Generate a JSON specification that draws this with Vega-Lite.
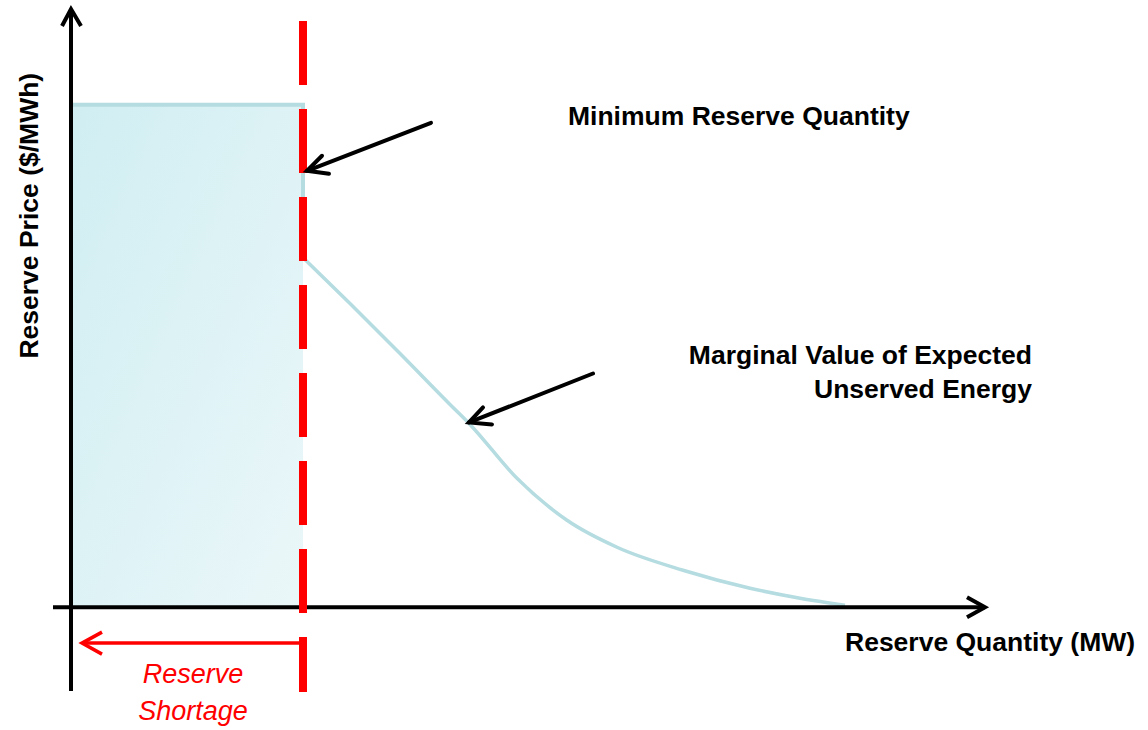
{
  "$schema": "https://vega.github.io/schema/vega-lite/v6.json",
  "width": 1148,
  "height": 730,
  "padding": 0,
  "autosize": {"type": "fit", "contains": "padding"},
  "background": "white",
  "config": {"view": {"stroke": null}},
  "datasets": {
    "region": [{"q": 0, "q2": 232, "p": 0, "p2": 503}],
    "step": [
      {"o": 1, "q": 0, "p": 503},
      {"o": 2, "q": 232, "p": 503},
      {"o": 3, "q": 232, "p": 350}
    ],
    "curve": [
      {"q": 232, "p": 350},
      {"q": 279, "p": 304},
      {"q": 329, "p": 254},
      {"q": 379, "p": 203},
      {"q": 399, "p": 183},
      {"q": 446, "p": 129},
      {"q": 496, "p": 87},
      {"q": 546, "p": 60},
      {"q": 612, "p": 37},
      {"q": 679, "p": 19},
      {"q": 729, "p": 9},
      {"q": 774, "p": 2}
    ],
    "minq": [
      {"o": 1, "q": 232, "p": 587},
      {"o": 2, "q": 232, "p": -85}
    ],
    "axes": [
      {"id": "yaxis", "o": 1, "q": 0, "p": -84},
      {"id": "yaxis", "o": 2, "q": 0, "p": 599},
      {"id": "yhead", "o": 1, "q": -9, "p": 582},
      {"id": "yhead", "o": 2, "q": 0, "p": 599},
      {"id": "yhead", "o": 3, "q": 10, "p": 582},
      {"id": "xaxis", "o": 1, "q": -18, "p": 0},
      {"id": "xaxis", "o": 2, "q": 914, "p": 0},
      {"id": "xhead", "o": 1, "q": 896, "p": 10},
      {"id": "xhead", "o": 2, "q": 914, "p": 0},
      {"id": "xhead", "o": 3, "q": 896, "p": -10}
    ],
    "pointers": [
      {"id": "a1", "o": 1, "q": 360, "p": 485},
      {"id": "a1", "o": 2, "q": 236, "p": 437},
      {"id": "a1h", "o": 1, "q": 251, "p": 452},
      {"id": "a1h", "o": 2, "q": 236, "p": 437},
      {"id": "a1h", "o": 3, "q": 258, "p": 434},
      {"id": "a2", "o": 1, "q": 522, "p": 234},
      {"id": "a2", "o": 2, "q": 398, "p": 185},
      {"id": "a2h", "o": 1, "q": 412, "p": 200},
      {"id": "a2h", "o": 2, "q": 398, "p": 185},
      {"id": "a2h", "o": 3, "q": 421, "p": 183}
    ],
    "shortage": [
      {"id": "r", "o": 1, "q": 232, "p": -36},
      {"id": "r", "o": 2, "q": 11, "p": -36},
      {"id": "rh", "o": 1, "q": 31, "p": -25},
      {"id": "rh", "o": 2, "q": 11, "p": -36},
      {"id": "rh", "o": 3, "q": 31, "p": -47}
    ],
    "labels": [
      {"q": 497, "p": 491, "text": "Minimum Reserve Quantity", "al": "left"},
      {"q": 961, "p": 252, "text": "Marginal Value of Expected", "al": "right"},
      {"q": 961, "p": 217, "text": "Unserved Energy", "al": "right"},
      {"q": 774, "p": -36, "text": "Reserve Quantity (MW)", "al": "left"}
    ],
    "ylabel": [{"q": -41, "p": 392, "text": "Reserve Price ($/MWh)"}],
    "redlabels": [
      {"q": 122, "p": -68, "text": "Reserve"},
      {"q": 122, "p": -105, "text": "Shortage"}
    ]
  },
  "encoding": {
    "x": {"field": "q", "type": "quantitative", "scale": {"domain": [-71, 1077], "nice": false, "zero": false}, "axis": null},
    "y": {"field": "p", "type": "quantitative", "scale": {"domain": [-123, 607], "nice": false, "zero": false}, "axis": null}
  },
  "layer": [
    {
      "data": {"name": "region"},
      "mark": {
        "type": "rect",
        "color": {
          "gradient": "linear", "x1": 0, "y1": 0, "x2": 1, "y2": 1,
          "stops": [{"offset": 0, "color": "#d0eef2"}, {"offset": 1, "color": "#ebf7f9"}]
        }
      },
      "encoding": {"x2": {"field": "q2"}, "y2": {"field": "p2"}}
    },
    {
      "data": {"name": "step"},
      "mark": {"type": "line", "color": "#b5dce0", "strokeWidth": 4, "strokeJoin": "miter"},
      "encoding": {"order": {"field": "o"}}
    },
    {
      "data": {"name": "curve"},
      "mark": {"type": "line", "color": "#b5dce0", "strokeWidth": 3.5, "interpolate": "monotone"},
      "encoding": {"order": {"field": "q"}}
    },
    {
      "data": {"name": "axes"},
      "mark": {"type": "line", "color": "black", "strokeWidth": 4, "strokeJoin": "miter", "strokeCap": "butt"},
      "encoding": {"detail": {"field": "id"}, "order": {"field": "o"}}
    },
    {
      "data": {"name": "minq"},
      "mark": {"type": "line", "color": "#ff0000", "strokeWidth": 8, "strokeDash": [64, 24], "strokeCap": "butt"},
      "encoding": {"order": {"field": "o"}}
    },
    {
      "data": {"name": "pointers"},
      "mark": {"type": "line", "color": "black", "strokeWidth": 4, "strokeJoin": "miter", "strokeCap": "round"},
      "encoding": {"detail": {"field": "id"}, "order": {"field": "o"}}
    },
    {
      "data": {"name": "shortage"},
      "mark": {"type": "line", "color": "#ff0000", "strokeWidth": 3.5, "strokeJoin": "miter", "strokeCap": "butt"},
      "encoding": {"detail": {"field": "id"}, "order": {"field": "o"}}
    },
    {
      "data": {"name": "labels"},
      "transform": [{"filter": "datum.al == 'left'"}],
      "mark": {"type": "text", "align": "left", "baseline": "middle", "font": "Liberation Sans", "fontSize": 26.5, "fontWeight": "bold", "color": "black"},
      "encoding": {"text": {"field": "text"}}
    },
    {
      "data": {"name": "labels"},
      "transform": [{"filter": "datum.al == 'right'"}],
      "mark": {"type": "text", "align": "right", "baseline": "middle", "font": "Liberation Sans", "fontSize": 26.5, "fontWeight": "bold", "color": "black"},
      "encoding": {"text": {"field": "text"}}
    },
    {
      "data": {"name": "ylabel"},
      "mark": {"type": "text", "align": "center", "baseline": "middle", "angle": 270, "font": "Liberation Sans", "fontSize": 26.5, "fontWeight": "bold", "color": "black"},
      "encoding": {"text": {"field": "text"}}
    },
    {
      "data": {"name": "redlabels"},
      "mark": {"type": "text", "align": "center", "baseline": "middle", "font": "Liberation Sans", "fontSize": 27, "fontStyle": "italic", "color": "#ff0000"},
      "encoding": {"text": {"field": "text"}}
    }
  ]
}
